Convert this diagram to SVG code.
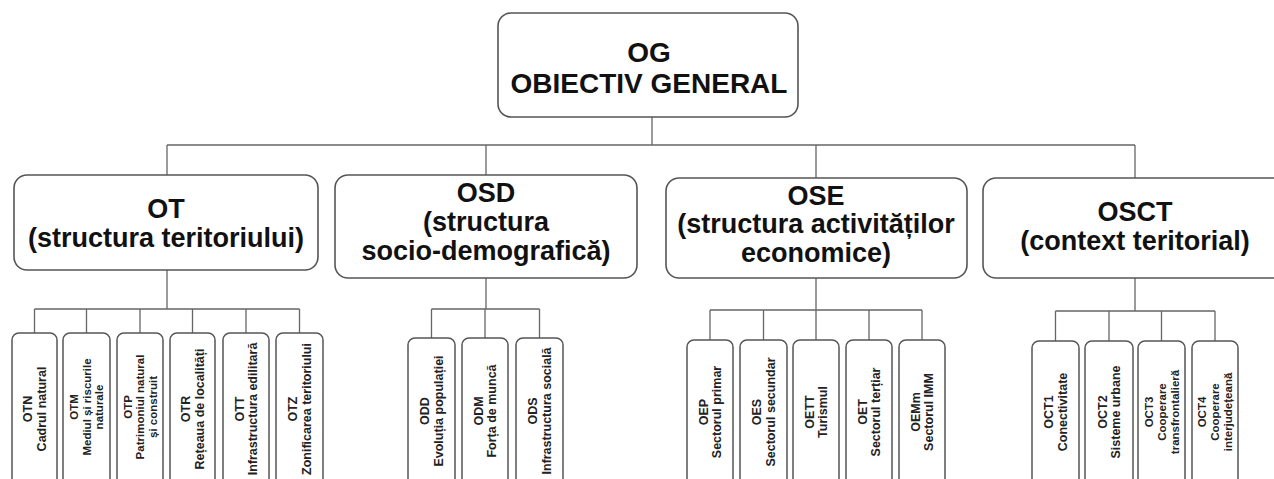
<svg xmlns="http://www.w3.org/2000/svg" width="1274" height="479" viewBox="0 0 1274 479">
<style>
.box{fill:#fff;stroke:#555;stroke-width:1.6}
.cbox{fill:#fff;stroke:#555;stroke-width:1.5}
.con{fill:none;stroke:#666;stroke-width:1.3}
.big{font-family:"Liberation Sans",Arial,sans-serif;font-weight:bold;font-size:27px;fill:#111;text-anchor:middle}
.top{font-family:"Liberation Sans",Arial,sans-serif;font-weight:bold;font-size:28px;fill:#111;text-anchor:middle}
.sm{font-family:"Liberation Sans",Arial,sans-serif;font-weight:bold;font-size:12.5px;fill:#222;text-anchor:middle}
.sm3{font-family:"Liberation Sans",Arial,sans-serif;font-weight:bold;font-size:11.5px;fill:#222;text-anchor:middle}
</style>
<rect width="1274" height="479" fill="#fff"/>

<g id="connectors">
<path class="con" d="M652 117V145M167 145H1135M167 145V175M486 145V175M816 145V178M1135 145V178"/>
<path class="con" d="M167 270V309M34.5 309H299.5M34.5 309V333M86.5 309V333M140 309V333M192.5 309V333M246 309V333M299.5 309V333"/>
<path class="con" d="M486 278V309M431.5 309H539.5M431.5 309V338M485 309V338M539.5 309V338"/>
<path class="con" d="M816 278V310M710 310H922M710 310V340M763.5 310V340M816 310V340M869 310V340M922 310V340"/>
<path class="con" d="M1135 278V311M1055.5 311H1215M1055.5 311V341M1109 311V341M1161.5 311V341M1215 311V341"/>
</g>

<g id="OG">
<rect class="box" x="498" y="13" width="300" height="104" rx="13"/>
<text class="top" x="649" y="62">OG</text>
<text class="top" x="649" y="93">OBIECTIV GENERAL</text>
</g>

<g id="OT">
<rect class="box" x="14" y="175" width="304" height="95" rx="13"/>
<text class="big" x="166" y="218">OT</text>
<text class="big" x="166" y="247">(structura teritoriului)</text>
</g>
<g id="OSD">
<rect class="box" x="335" y="175" width="302" height="103" rx="13"/>
<text class="big" x="486" y="202">OSD</text>
<text class="big" x="486" y="231">(structura</text>
<text class="big" x="486" y="260">socio-demografică)</text>
</g>
<g id="OSE">
<rect class="box" x="666" y="178" width="301" height="100" rx="13"/>
<text class="big" x="816" y="205">OSE</text>
<text class="big" x="816" y="233">(structura activităților</text>
<text class="big" x="816" y="262">economice)</text>
</g>
<g id="OSCT">
<rect class="box" x="983" y="178" width="304" height="100" rx="13"/>
<text class="big" x="1135" y="221">OSCT</text>
<text class="big" x="1135" y="250">(context teritorial)</text>
</g>

<!-- OT children -->
<g id="OTN"><rect class="cbox" x="12" y="333" width="45" height="160" rx="7"/>
<g transform="translate(34.5 409) rotate(-90)"><text class="sm" y="-2.5">OTN</text><text class="sm" y="11">Cadrul natural</text></g></g>
<g id="OTM"><rect class="cbox" x="63" y="333" width="47" height="160" rx="7"/>
<g transform="translate(86.5 407) rotate(-90)"><text class="sm3" y="-8.5">OTM</text><text class="sm3" y="4">Mediul și riscurile</text><text class="sm3" y="16.5">naturale</text></g></g>
<g id="OTP"><rect class="cbox" x="117" y="333" width="46" height="160" rx="7"/>
<g transform="translate(140 407) rotate(-90)"><text class="sm3" y="-8.5">OTP</text><text class="sm3" y="4">Patrimoniul natural</text><text class="sm3" y="16.5">și construit</text></g></g>
<g id="OTR"><rect class="cbox" x="170" y="333" width="45" height="160" rx="7"/>
<g transform="translate(192.5 409) rotate(-90)"><text class="sm" y="-2.5">OTR</text><text class="sm" y="11">Rețeaua de localități</text></g></g>
<g id="OTT"><rect class="cbox" x="223" y="333" width="46" height="160" rx="7"/>
<g transform="translate(246 409) rotate(-90)"><text class="sm" y="-2.5">OTT</text><text class="sm" y="11">Infrastructura edilitară</text></g></g>
<g id="OTZ"><rect class="cbox" x="276" y="333" width="47" height="160" rx="7"/>
<g transform="translate(299.5 409) rotate(-90)"><text class="sm" y="-2.5">OTZ</text><text class="sm" y="11">Zonificarea teritoriului</text></g></g>

<!-- OSD children -->
<g id="ODD"><rect class="cbox" x="408" y="338" width="47" height="160" rx="7"/>
<g transform="translate(431.5 411) rotate(-90)"><text class="sm" y="-2.5">ODD</text><text class="sm" y="11">Evoluția populației</text></g></g>
<g id="ODM"><rect class="cbox" x="462" y="338" width="46" height="160" rx="7"/>
<g transform="translate(485 411) rotate(-90)"><text class="sm" y="-2.5">ODM</text><text class="sm" y="11">Forța de muncă</text></g></g>
<g id="ODS"><rect class="cbox" x="516" y="338" width="47" height="160" rx="7"/>
<g transform="translate(539.5 411) rotate(-90)"><text class="sm" y="-2.5">ODS</text><text class="sm" y="11">Infrastructura socială</text></g></g>

<!-- OSE children -->
<g id="OEP"><rect class="cbox" x="687" y="340" width="46" height="160" rx="7"/>
<g transform="translate(710 412) rotate(-90)"><text class="sm" y="-2.5">OEP</text><text class="sm" y="11">Sectorul primar</text></g></g>
<g id="OES"><rect class="cbox" x="740" y="340" width="47" height="160" rx="7"/>
<g transform="translate(763.5 412) rotate(-90)"><text class="sm" y="-2.5">OES</text><text class="sm" y="11">Sectorul secundar</text></g></g>
<g id="OETT"><rect class="cbox" x="793" y="340" width="46" height="160" rx="7"/>
<g transform="translate(816 412) rotate(-90)"><text class="sm" y="-2.5">OETT</text><text class="sm" y="11">Turismul</text></g></g>
<g id="OET"><rect class="cbox" x="846" y="340" width="46" height="160" rx="7"/>
<g transform="translate(869 412) rotate(-90)"><text class="sm" y="-2.5">OET</text><text class="sm" y="11">Sectorul terțiar</text></g></g>
<g id="OEMm"><rect class="cbox" x="899" y="340" width="46" height="160" rx="7"/>
<g transform="translate(922 412) rotate(-90)"><text class="sm" y="-2.5">OEMm</text><text class="sm" y="11">Sectorul IMM</text></g></g>

<!-- OSCT children -->
<g id="OCT1"><rect class="cbox" x="1032" y="341" width="47" height="160" rx="7"/>
<g transform="translate(1055.5 412) rotate(-90)"><text class="sm" y="-2.5">OCT1</text><text class="sm" y="11">Conectivitate</text></g></g>
<g id="OCT2"><rect class="cbox" x="1085" y="341" width="48" height="160" rx="7"/>
<g transform="translate(1109 412) rotate(-90)"><text class="sm" y="-2.5">OCT2</text><text class="sm" y="11">Sisteme urbane</text></g></g>
<g id="OCT3"><rect class="cbox" x="1138" y="341" width="47" height="160" rx="7"/>
<g transform="translate(1161.5 412) rotate(-90)"><text class="sm3" y="-9">OCT3</text><text class="sm3" y="4">Cooperare</text><text class="sm3" y="17">transfrontalieră</text></g></g>
<g id="OCT4"><rect class="cbox" x="1192" y="341" width="46" height="160" rx="7"/>
<g transform="translate(1215 412) rotate(-90)"><text class="sm3" y="-9">OCT4</text><text class="sm3" y="4">Cooperare</text><text class="sm3" y="17">interjudețeană</text></g></g>
</svg>
